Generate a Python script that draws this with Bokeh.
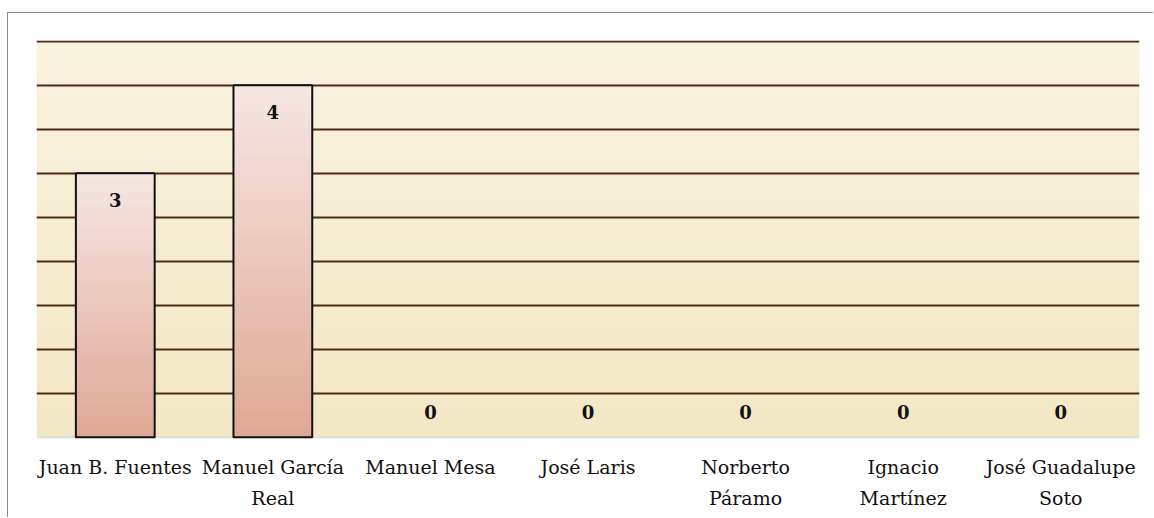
from bokeh.plotting import figure
from bokeh.models import FixedTicker, BoxAnnotation, Range1d, Span
from bokeh.embed import file_html
from bokeh.resources import INLINE
from bokeh.core.properties import value

# ---- data ----
categories = ["Juan B. Fuentes", "Manuel García Real", "Manuel Mesa", "José Laris",
              "Norberto Páramo", "Ignacio Martínez", "José Guadalupe Soto"]
tick_labels = ["Juan B. Fuentes", "Manuel García\nReal", "Manuel Mesa", "José Laris",
               "Norberto\nPáramo", "Ignacio\nMartínez", "José Guadalupe\nSoto"]
votes = [3, 4, 0, 0, 0, 0, 0]
grid_ticks = [0.5, 1.0, 1.5, 2.0, 2.5, 3.0, 3.5, 4.0, 4.5]
y_max = 4.5
y_label_room = 0.8   # room below zero (in value units) for category labels

FONT = "DejaVu Serif"


def lerp_color(c1, c2, t):
    a = [int(c1[i:i + 2], 16) for i in (1, 3, 5)]
    b = [int(c2[i:i + 2], 16) for i in (1, 3, 5)]
    return "#%02x%02x%02x" % tuple(round(a[k] + (b[k] - a[k]) * t) for k in range(3))


p = figure(x_range=categories, y_range=Range1d(-y_label_room, y_max + 0.01),
           width=1146, height=505, output_backend="svg", toolbar_location=None,
           min_border_left=28, min_border_right=15, min_border_top=27, min_border_bottom=11)
p.styles = {"border-top": "1px solid #9c8878", "border-left": "1px solid #9c8878",
            "margin-top": "12px", "margin-left": "7px"}
p.outline_line_color = None
p.background_fill_color = "white"
p.border_fill_color = "white"

# plot-area background gradient (bottom darker, top lighter)
n_bg = 30
for k in range(n_bg):
    b = y_max * k / n_bg
    t = y_max * (k + 1) / n_bg + 0.02
    col = lerp_color("#f3e8c4", "#f8f2e0", k / (n_bg - 1))
    p.add_layout(BoxAnnotation(bottom=b, top=t, fill_color=col, fill_alpha=1.0,
                               line_color=None, level="image"))

# grid
p.xgrid.grid_line_color = None
p.ygrid.ticker = FixedTicker(ticks=grid_ticks)
p.ygrid.grid_line_color = "#4f2b14"
p.ygrid.grid_line_width = 2

# axes hidden; light baseline
p.xaxis.visible = False
p.yaxis.visible = False
p.add_layout(Span(location=0, dimension="width", line_color="#dcdcdc", line_width=2,
                  level="underlay"))

# category labels (multi-line) under the plot area
p.text(x=categories, y=[0] * len(categories), text=tick_labels, text_align="center",
       text_baseline="top", y_offset=19, text_font=value(FONT), text_font_size="19px",
       text_color="#111111", text_line_height=1.4)

# bars with vertical gradient
bar_w = 0.5
n_slices = 40
pos_cats = [c for c, v in zip(categories, votes) if v > 0]
pos_vals = [v for v in votes if v > 0]
for c, v in zip(pos_cats, pos_vals):
    xs, bots, tops, cols = [], [], [], []
    for k in range(n_slices):
        xs.append(c)
        bots.append(v * k / n_slices)
        tops.append(min(v, v * (k + 1.6) / n_slices))
        cols.append(lerp_color("#dfa995", "#f5e6e2", k / (n_slices - 1)))
    p.vbar(x=xs, bottom=bots, top=tops, width=bar_w, fill_color=cols, line_color=None)
p.vbar(x=pos_cats, top=pos_vals, width=bar_w, fill_alpha=0, line_color="#111111", line_width=2)

# value labels
p.text(x=pos_cats, y=pos_vals, text=[str(v) for v in pos_vals], text_align="center",
       text_baseline="top", y_offset=20, text_font=value(FONT), text_font_style="bold",
       text_font_size="18px", text_color="#111111")
zero_cats = [c for c, v in zip(categories, votes) if v == 0]
zero_vals = [v for v in votes if v == 0]
p.text(x=zero_cats, y=zero_vals, text=[str(v) for v in zero_vals], text_align="center",
       text_baseline="bottom", y_offset=-18, text_font=value(FONT), text_font_style="bold",
       text_font_size="18px", text_color="#111111")

open("out.html", "w").write(file_html(p, INLINE))
